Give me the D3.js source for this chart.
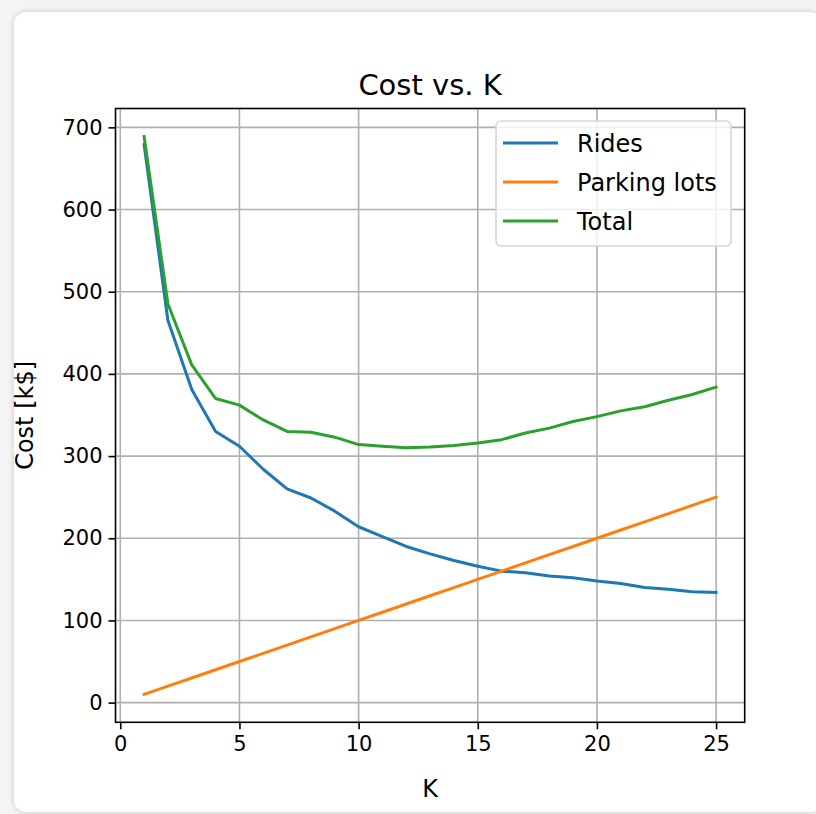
<!DOCTYPE html>
<html>
<head>
<meta charset="utf-8">
<script src="https://cdn.jsdelivr.net/npm/d3@7"></script>
<style>
  html, body { margin: 0; padding: 0; background: #f4f4f4; }
  body { width: 816px; height: 814px; overflow: hidden; position: relative; }
  .card {
    position: absolute; left: 14px; top: 12px; width: 808px; height: 800px;
    background: #fff; border-radius: 12px;
    box-shadow: 0 0 6px rgba(0,0,0,0.18);
  }
  svg { position: absolute; left: 0; top: 0; }
  text { font-family: "DejaVu Sans", sans-serif; fill: #000; }
</style>
</head>
<body>
<div class="card"></div>
<svg id="chart" width="816" height="814"></svg>
<script>
// K values (number of parking lots) and cost components in k$
const kValues = [1,2,3,4,5,6,7,8,9,10,11,12,13,14,15,16,17,18,19,20,21,22,23,24,25];
const ridesCost = [679,465,381,330,312,284,260,249,233,214,202,190,181,173,166,160,158,154,152,148,145,140,138,135,134];
const parkingCost = [10,20,30,40,50,60,70,80,90,100,110,120,130,140,150,160,170,180,190,200,210,220,230,240,250];
const totalCost = [689,485,411,370,362,344,330,329,323,314,312,310,311,313,316,320,328,334,342,348,355,360,368,375,384];
const xTicks = [0,5,10,15,20,25];
const yTicks = [0,100,200,300,400,500,600,700];

const seriesNames = ["Rides", "Parking lots", "Total"];
const seriesValues = [ridesCost, parkingCost, totalCost];
const seriesColors = ["#1f77b4", "#ff7f0e", "#2ca02c"];

const svg = d3.select("#chart");
const plot = { left: 115.5, right: 744.7, top: 108.5, bottom: 722.3 };

// 5% padding on both axes, like the default autoscale margins
const xExt = d3.extent(kValues);
const xPad = (xExt[1] - xExt[0]) * 0.05;
const allY = seriesValues.flat();
const yExt = d3.extent(allY);
const yPad = (yExt[1] - yExt[0]) * 0.05;

const x = d3.scaleLinear().domain([xExt[0] - xPad, xExt[1] + xPad]).range([plot.left, plot.right]);
const y = d3.scaleLinear().domain([yExt[0] - yPad, yExt[1] + yPad]).range([plot.bottom, plot.top]);

// grid
const grid = svg.append("g");
grid.selectAll(".gx").data(xTicks).enter().append("line")
  .attr("x1", d => x(d)).attr("x2", d => x(d))
  .attr("y1", plot.top).attr("y2", plot.bottom)
  .attr("stroke", "#b0b0b0").attr("stroke-width", 1.6);
grid.selectAll(".gy").data(yTicks).enter().append("line")
  .attr("x1", plot.left).attr("x2", plot.right)
  .attr("y1", d => y(d)).attr("y2", d => y(d))
  .attr("stroke", "#b0b0b0").attr("stroke-width", 1.6);

// series lines
const line = d3.line().x((d, i) => x(kValues[i])).y(d => y(d));
seriesValues.forEach((vals, s) => {
  svg.append("path").datum(vals)
    .attr("d", line)
    .attr("fill", "none")
    .attr("stroke", seriesColors[s])
    .attr("stroke-width", 3)
    .attr("stroke-linejoin", "round")
    .attr("stroke-linecap", "square");
});

// axes
const xAxis = d3.axisBottom(x).tickValues(xTicks).tickSize(7).tickPadding(7);
const yAxis = d3.axisLeft(y).tickValues(yTicks).tickSize(7).tickPadding(6);
const gx = svg.append("g").attr("transform", `translate(0,${plot.bottom})`).call(xAxis);
const gy = svg.append("g").attr("transform", `translate(${plot.left},0)`).call(yAxis);
[gx, gy].forEach(g => {
  g.select(".domain").remove();
  g.selectAll(".tick line").attr("stroke", "#000").attr("stroke-width", 1.6);
  g.selectAll(".tick text").attr("font-size", 21).attr("font-family", "DejaVu Sans").attr("fill", "#000");
});

// frame
svg.append("rect")
  .attr("x", plot.left).attr("y", plot.top)
  .attr("width", plot.right - plot.left).attr("height", plot.bottom - plot.top)
  .attr("fill", "none").attr("stroke", "#000").attr("stroke-width", 1.6);

// title and axis labels
svg.append("text").attr("x", (plot.left + plot.right) / 2).attr("y", 95)
  .attr("text-anchor", "middle").attr("font-size", 29).text("Cost vs. K");
svg.append("text").attr("x", (plot.left + plot.right) / 2).attr("y", 797)
  .attr("text-anchor", "middle").attr("font-size", 24).text("K");
svg.append("text")
  .attr("transform", `translate(33,${(plot.top + plot.bottom) / 2}) rotate(-90)`)
  .attr("text-anchor", "middle").attr("font-size", 24).text("Cost [k$]");

// legend
const lg = svg.append("g").attr("transform", "translate(496,121)");
lg.append("rect").attr("width", 235).attr("height", 125).attr("rx", 5)
  .attr("fill", "#fff").attr("fill-opacity", 0.8)
  .attr("stroke", "#d6d6d6").attr("stroke-width", 1.6);
seriesNames.forEach((name, i) => {
  const yy = 22 + i * 39;
  lg.append("line").attr("x1", 7).attr("x2", 62).attr("y1", yy).attr("y2", yy)
    .attr("stroke", seriesColors[i]).attr("stroke-width", 3);
  lg.append("text").attr("x", 81).attr("y", yy + 8.5).attr("font-size", 24).text(name);
});
</script>
</body>
</html>
